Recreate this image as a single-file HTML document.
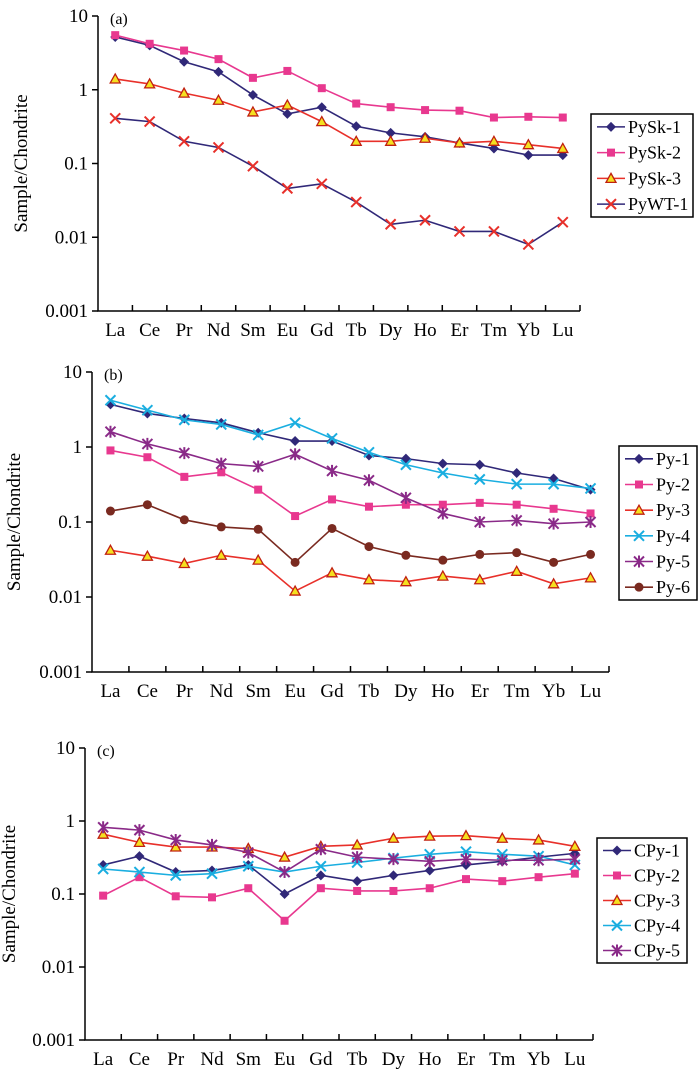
<!DOCTYPE html>
<html><head><meta charset="utf-8">
<style>
body{margin:0;background:#fff;}
svg{display:block;font-family:"Liberation Serif",serif;}
</style></head>
<body>
<svg id="chart" width="700" height="1071" viewBox="0 0 700 1071" xmlns="http://www.w3.org/2000/svg"></svg>
<script>
const categories = ["La","Ce","Pr","Nd","Sm","Eu","Gd","Tb","Dy","Ho","Er","Tm","Yb","Lu"];
const yTickLabels = ["10","1","0.1","0.01","0.001"];
const yTickValues = [10,1,0.1,0.01,0.001];

const aNames = ["PySk-1","PySk-2","PySk-3","PyWT-1"];
const aPySk1 = [5.2,4.0,2.4,1.75,0.85,0.47,0.58,0.32,0.26,0.23,0.19,0.16,0.13,0.13];
const aPySk2 = [5.5,4.2,3.4,2.6,1.45,1.8,1.05,0.65,0.58,0.53,0.52,0.42,0.43,0.42];
const aPySk3 = [1.4,1.2,0.9,0.72,0.5,0.62,0.37,0.2,0.2,0.22,0.19,0.2,0.18,0.16];
const aPyWT1 = [0.41,0.37,0.2,0.165,0.092,0.046,0.053,0.03,0.015,0.017,0.012,0.012,0.008,0.016];

const bNames = ["Py-1","Py-2","Py-3","Py-4","Py-5","Py-6"];
const bPy1 = [3.7,2.8,2.4,2.1,1.55,1.2,1.2,0.77,0.7,0.6,0.58,0.45,0.38,0.27];
const bPy2 = [0.9,0.73,0.4,0.46,0.27,0.12,0.2,0.16,0.17,0.17,0.18,0.17,0.15,0.13];
const bPy3 = [0.042,0.035,0.028,0.036,0.031,0.012,0.021,0.017,0.016,0.019,0.017,0.022,0.015,0.018];
const bPy4 = [4.2,3.1,2.3,2.0,1.45,2.1,1.3,0.85,0.58,0.45,0.37,0.32,0.32,0.28];
const bPy5 = [1.6,1.1,0.83,0.6,0.55,0.8,0.48,0.36,0.21,0.13,0.1,0.105,0.095,0.1];
const bPy6 = [0.14,0.17,0.107,0.086,0.08,0.029,0.082,0.047,0.036,0.031,0.037,0.039,0.029,0.037];

const cNames = ["CPy-1","CPy-2","CPy-3","CPy-4","CPy-5"];
const cCPy1 = [0.25,0.33,0.2,0.21,0.25,0.1,0.18,0.15,0.18,0.21,0.25,0.28,0.32,0.36];
const cCPy2 = [0.095,0.17,0.093,0.09,0.12,0.043,0.12,0.11,0.11,0.12,0.16,0.15,0.17,0.19];
const cCPy3 = [0.66,0.51,0.44,0.44,0.42,0.32,0.45,0.47,0.58,0.62,0.63,0.58,0.55,0.45];
const cCPy4 = [0.22,0.2,0.18,0.19,0.24,0.2,0.24,0.27,0.31,0.35,0.38,0.35,0.33,0.25];
const cCPy5 = [0.82,0.75,0.55,0.47,0.37,0.2,0.41,0.32,0.3,0.28,0.3,0.29,0.29,0.3];

const NAVY="#302878", PINK="#e8388f", RED="#e8302a", CYAN="#1aaee0", PURP="#8a2a88", BROWN="#7a2a20";
const ST = {
 diamond:{line:NAVY,mk:"diamond",fill:NAVY,stroke:NAVY},
 square:{line:PINK,mk:"square",fill:PINK,stroke:PINK},
 tri:{line:RED,mk:"tri",fill:"#f5e020",stroke:"#c02010"},
 wt:{line:NAVY,mk:"x",fill:"none",stroke:RED},
 cyan:{line:CYAN,mk:"x",fill:"none",stroke:CYAN},
 star:{line:PURP,mk:"star",fill:"none",stroke:PURP},
 dot:{line:BROWN,mk:"dot",fill:BROWN,stroke:BROWN}
};

const svg=document.getElementById('chart');
const NS="http://www.w3.org/2000/svg";
function el(tag,attrs,parent){const e=document.createElementNS(NS,tag);for(const k in attrs)e.setAttribute(k,attrs[k]);(parent||svg).appendChild(e);return e;}

function marker(g,type,x,y,s){
  let m;
  if(type==="diamond") m=el('polygon',{points:`${x},${y-5} ${x+5},${y} ${x},${y+5} ${x-5},${y}`,fill:s.fill},g);
  else if(type==="square") m=el('rect',{x:x-4,y:y-4,width:8,height:8,fill:s.fill},g);
  else if(type==="tri") m=el('polygon',{points:`${x},${y-5} ${x+5},${y+4} ${x-5},${y+4}`,fill:s.fill,stroke:s.stroke,'stroke-width':1.3},g);
  else if(type==="dot") m=el('circle',{cx:x,cy:y,r:4.5,fill:s.fill},g);
  else {
    m=el('path',{d:`M${x-5},${y-5}L${x+5},${y+5}M${x+5},${y-5}L${x-5},${y+5}`+(type==="star"?`M${x},${y-6}L${x},${y+6}`:''),stroke:s.stroke,'stroke-width':2,fill:'none'},g);
  }
  return m;
}

function panel(p){
  const g=el('g',{});
  
  
  const band=(p.x1-p.x0)/categories.length;
  const dec=(p.yBot-p.yTop)/4;
  const xs=i=>p.x0+band*(i+0.5);
  const ys=v=>p.yTop+(1-Math.log10(v))*dec;
  const ax=el('path',{d:`M${p.x0},${p.yTop}L${p.x0},${p.yBot}L${p.x1},${p.yBot}`,stroke:'#000','stroke-width':1.5,fill:'none'},g);
  
  
  yTickValues.forEach((v,i)=>{
    el('line',{x1:p.x0-6,x2:p.x0,y1:ys(v),y2:ys(v),stroke:'#000','stroke-width':1.5},g);
    const t=el('text',{x:p.x0-10,y:ys(v)+6,'text-anchor':'end','font-size':19},g);
    t.textContent=yTickLabels[i];
    
    
  });
  for(let i=1;i<=categories.length;i++){
    el('line',{x1:p.x0+band*i,x2:p.x0+band*i,y1:p.yBot-6,y2:p.yBot,stroke:'#000','stroke-width':1.5},g);
  }
  categories.forEach((c,i)=>{
    const t=el('text',{x:xs(i),y:p.yBot+25,'text-anchor':'middle','font-size':19},g);
    t.textContent=c;
    
    
  });
  const yl=el('text',{x:0,y:0,transform:`translate(${p.ylx},${(p.yTop+p.yBot)/2}) rotate(-90)`,'text-anchor':'middle','font-size':19},g);
  yl.textContent="Sample/Chondrite";
  
  
  const pl=el('text',{x:p.x0+12,y:p.yTop+8,'font-size':16},g);
  pl.textContent="("+p.id+")";
  
  
  p.series.forEach((s,si)=>{
    const sg=el('g',{},g);
    
    
    const st=ST[s.style];
    el('polyline',{points:s.values.map((v,i)=>xs(i)+','+ys(v)).join(' '),fill:'none',stroke:st.line,'stroke-width':1.6},sg);
    s.values.forEach((v,i)=>{
      const m=marker(sg,st.mk,xs(i),ys(v),st);
      
      
    });
  });
  const lg=el('g',{},g);
  
  
  el('rect',{x:p.lx,y:p.ly,width:p.lw,height:p.lh,fill:'#fff',stroke:'#000','stroke-width':1.5},lg);
  const rh=p.lh/p.series.length;
  p.series.forEach((s,si)=>{
    const st=ST[s.style];
    const cy=p.ly+rh*(si+0.5);
    const eg=el('g',{},lg);
    
    
    el('line',{x1:p.lx+6,x2:p.lx+34,y1:cy,y2:cy,stroke:st.line,'stroke-width':1.6},eg);
    marker(eg,st.mk,p.lx+20,cy,st);
    const t=el('text',{x:p.lx+37,y:cy+6,'font-size':18},eg);
    t.textContent=p.names[si];
  });
}

panel({id:'a',x0:98,x1:580,yTop:16,yBot:311,ylx:27,names:aNames,lx:591,ly:114,lw:102,lh:103,
 series:[{values:aPySk1,style:'diamond'},{values:aPySk2,style:'square'},{values:aPySk3,style:'tri'},{values:aPyWT1,style:'wt'}]});
panel({id:'b',x0:92,x1:609,yTop:372,yBot:672,ylx:20,names:bNames,lx:619,ly:446,lw:78,lh:154,
 series:[{values:bPy1,style:'diamond'},{values:bPy2,style:'square'},{values:bPy3,style:'tri'},{values:bPy4,style:'cyan'},{values:bPy5,style:'star'},{values:bPy6,style:'dot'}]});
panel({id:'c',x0:85,x1:593,yTop:748,yBot:1040,ylx:15,names:cNames,lx:597,ly:838,lw:90,lh:125,
 series:[{values:cCPy1,style:'diamond'},{values:cCPy2,style:'square'},{values:cCPy3,style:'tri'},{values:cCPy4,style:'cyan'},{values:cCPy5,style:'star'}]});
</script>
</body></html>
